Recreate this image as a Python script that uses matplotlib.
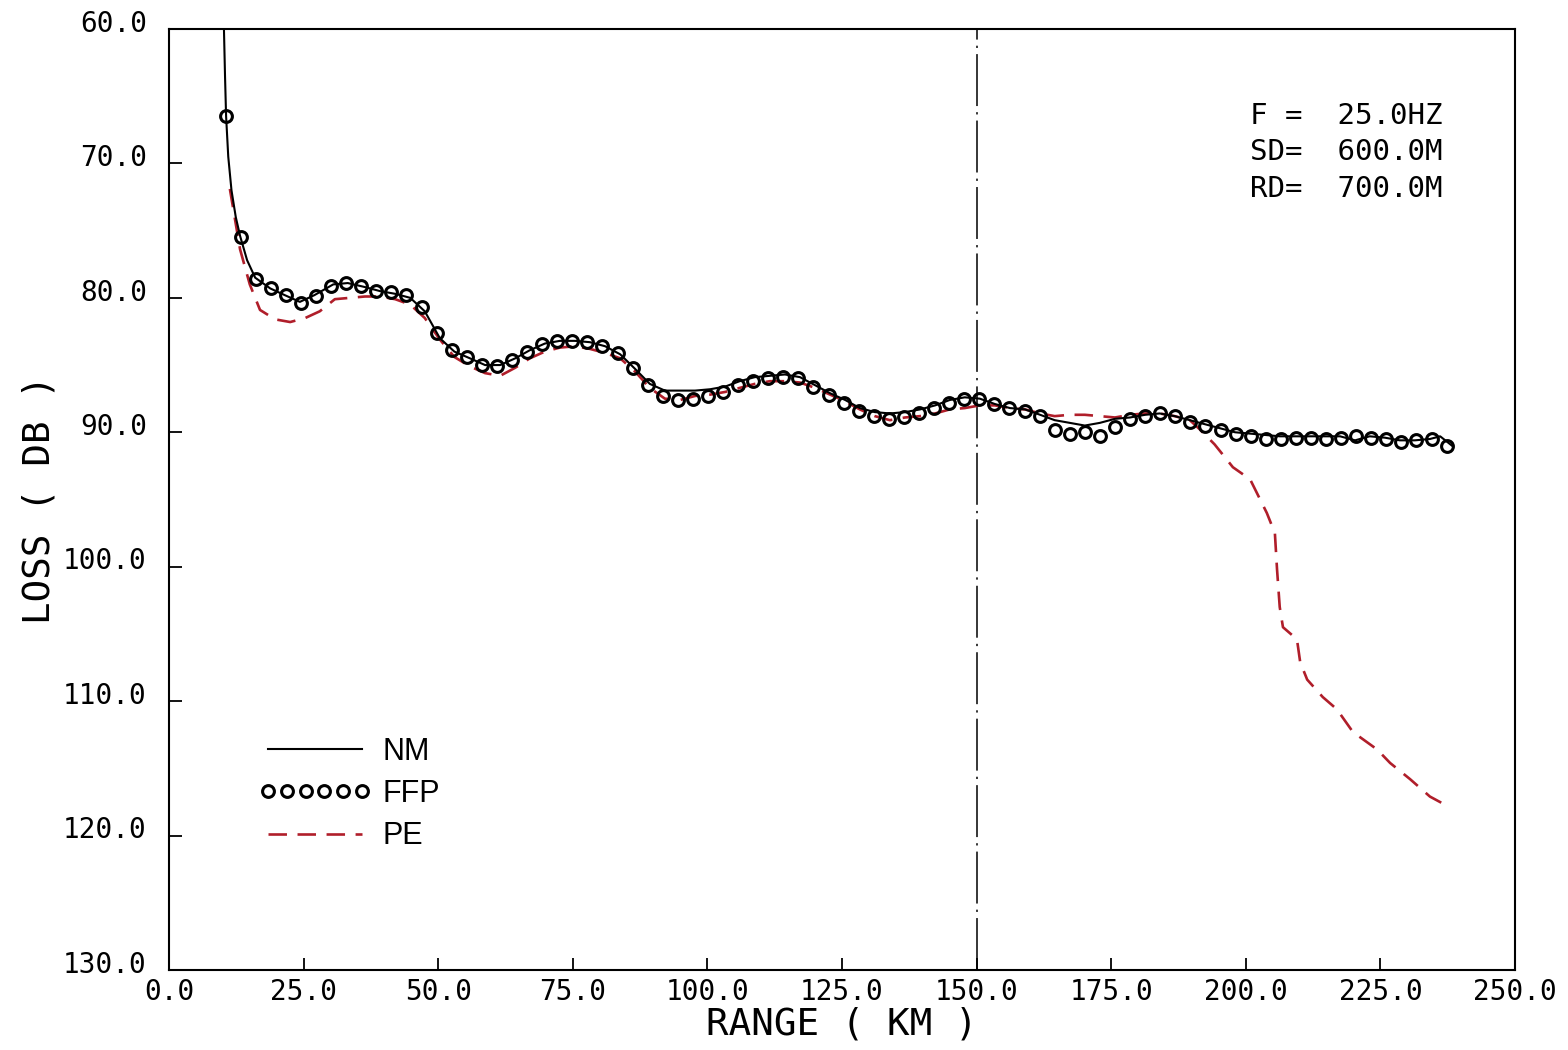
"""
Transmission loss vs range: normal modes, fast field and parabolic equation
"""

import numpy as np
import matplotlib.pyplot as plt
import matplotlib.transforms as mtransforms
from matplotlib.lines import Line2D

# normal mode solution (solid line)
nm_range = [10.2, 10.4, 10.6, 11.0, 11.6, 12.4, 13.2, 14.5, 16.0, 18.8,
            21.5, 24.3, 27.0, 30.5, 33.2, 36.4, 39.2, 42.0, 44.8, 47.5,
            50.3, 53.0, 55.9, 58.7, 61.5, 64.3, 67.0, 69.8, 72.6, 75.4,
            78.2, 81.0, 83.8, 86.6, 89.3, 92.1, 94.9, 97.7, 100.5, 103.3,
            106.0, 108.8, 111.6, 114.4, 117.2, 120.0, 122.8, 125.6, 128.3, 131.1,
            133.9, 136.7, 139.5, 142.3, 145.0, 147.8, 150.6, 153.4, 156.2, 159.0,
            161.8, 164.5, 167.3, 170.1, 172.9, 175.7, 178.5, 181.3, 184.0, 186.8,
            189.6, 192.4, 195.2, 198.0, 200.8, 203.6, 206.3, 209.1, 211.9, 214.7,
            217.5, 220.3, 223.0, 225.8, 228.6, 231.4, 234.2, 236.1, 238.3]
nm_loss = [60.0, 63.5, 66.5, 69.5, 72.0, 74.0, 75.4, 77.2, 78.5, 79.3,
           79.8, 80.3, 79.8, 79.0, 78.9, 79.2, 79.5, 79.7, 80.0, 81.0,
           83.0, 84.0, 84.5, 85.0, 85.0, 84.5, 83.9, 83.4, 83.2, 83.2,
           83.3, 83.6, 84.2, 85.3, 86.4, 86.9, 86.9, 86.9, 86.8, 86.6,
           86.2, 85.9, 85.8, 85.7, 85.9, 86.5, 87.1, 87.6, 88.2, 88.5,
           88.6, 88.5, 88.3, 88.0, 87.6, 87.4, 87.5, 87.9, 88.2, 88.3,
           88.7, 89.1, 89.3, 89.5, 89.3, 89.0, 88.9, 88.7, 88.6, 88.8,
           89.1, 89.4, 89.7, 90.0, 90.1, 90.2, 90.3, 90.3, 90.3, 90.3,
           90.3, 90.6, 90.3, 90.4, 90.6, 90.6, 90.5, 90.3, 91.0]

# fast field program samples (circle markers)
ffp_range = np.linspace(10.5, 237.3, 82)
ffp_loss = [66.5, 75.5, 78.6, 79.3, 79.8, 80.4, 79.9, 79.1, 78.9, 79.1,
            79.5, 79.6, 79.8, 80.7, 82.6, 83.9, 84.4, 85.0, 85.1, 84.6,
            84.0, 83.4, 83.2, 83.2, 83.3, 83.6, 84.1, 85.2, 86.5, 87.3,
            87.6, 87.5, 87.3, 87.0, 86.5, 86.2, 86.0, 85.9, 86.0, 86.6,
            87.2, 87.8, 88.4, 88.8, 89.0, 88.9, 88.6, 88.2, 87.8, 87.5,
            87.5, 87.9, 88.2, 88.4, 88.8, 89.8, 90.1, 90.0, 90.3, 89.6,
            89.0, 88.8, 88.6, 88.8, 89.2, 89.5, 89.8, 90.1, 90.3, 90.5,
            90.5, 90.4, 90.4, 90.5, 90.4, 90.3, 90.4, 90.5, 90.7, 90.6,
            90.5, 91.0]

# parabolic equation solution (red dashed)
pe_range = [11.3, 13.2, 15.0, 16.9, 19.7, 22.5, 25.3, 28.0, 30.8, 33.6,
            36.4, 39.2, 42.0, 44.8, 47.5, 50.3, 53.0, 55.9, 58.7, 61.5,
            64.3, 67.0, 69.8, 72.6, 75.4, 78.2, 81.0, 83.8, 86.6, 89.3,
            92.1, 94.9, 97.7, 100.5, 103.3, 106.0, 108.8, 111.6, 114.4, 117.2,
            120.0, 122.8, 125.6, 128.3, 131.1, 133.9, 136.7, 139.5, 142.3, 145.0,
            147.8, 150.6, 153.4, 156.2, 159.0, 161.8, 164.5, 167.3, 170.1, 172.9,
            175.7, 178.5, 181.3, 184.0, 186.8, 189.6, 191.5, 194.2, 197.6, 200.8,
            203.9, 205.4, 205.8, 206.3, 206.9, 209.5, 210.1, 211.4, 214.3, 216.9,
            219.9, 224.4, 226.8, 230.5, 234.2, 237.9]
pe_loss = [71.9, 76.4, 79.0, 80.9, 81.6, 81.8, 81.5, 81.0, 80.1, 80.0,
           79.9, 79.9, 80.1, 80.5, 81.5, 83.1, 84.4, 85.1, 85.6, 85.8,
           85.2, 84.5, 84.0, 83.7, 83.6, 83.8, 84.1, 84.5, 85.5, 86.7,
           87.5, 87.6, 87.3, 87.2, 87.0, 86.7, 86.4, 86.2, 86.2, 86.3,
           86.7, 87.2, 87.7, 88.3, 88.8, 89.1, 88.9, 88.8, 88.6, 88.3,
           88.2, 88.0, 88.0, 88.2, 88.3, 88.6, 88.8, 88.7, 88.7, 88.8,
           88.9, 88.7, 88.6, 88.6, 88.8, 89.1, 89.8, 90.9, 92.6, 93.5,
           96.0, 97.5, 100.2, 103.0, 104.5, 105.4, 107.1, 108.4, 109.7, 110.6,
           112.3, 113.6, 114.6, 115.8, 117.1, 117.9]

x_ticks = [0, 25, 50, 75, 100, 125, 150, 175, 200, 225, 250]
y_ticks = [60, 70, 80, 90, 100, 110, 120, 130]
info_lines = ["F =  25.0HZ", "SD=  600.0M", "RD=  700.0M"]
split_range = 150.0

PE_RED = '#b01e2a'
MONO = 'DejaVu Sans Mono'

fig = plt.figure(figsize=(15.68, 10.5), dpi=100)
ax = fig.add_axes([0.1078, 0.0762, 0.8584, 0.8962])

ax.plot(nm_range, nm_loss, color='black', lw=1.5, zorder=3)
ax.plot(ffp_range, ffp_loss, linestyle='none', marker='o', markersize=8.5,
        mfc='none', mec='black', mew=2.2, zorder=4)
ax.plot(pe_range, pe_loss, color=PE_RED, lw=1.9, dashes=(7, 4), zorder=2)

# dash-dot marker at 150 km
ax.axvline(split_range, color='black', lw=1.1, dashes=(34, 4, 1.5, 4), zorder=1)

ax.set_xlim(0, 250)
ax.set_ylim(130, 60)
ax.set_xticks(x_ticks)
ax.set_yticks(y_ticks)
ax.set_xticklabels([f"{v:.1f}" for v in x_ticks], family=MONO, fontsize=20)
ax.set_yticklabels([f"{v:.1f}" for v in y_ticks], family=MONO, fontsize=20)
ax.tick_params(direction='in', length=9, width=1.3, top=False, right=False)
ax.tick_params(axis='x', pad=6)
ax.tick_params(axis='y', pad=16)

# lift the loss labels a little above their ticks
lift = mtransforms.ScaledTranslation(0, 6 / 72, fig.dpi_scale_trans)
for lab in ax.get_yticklabels():
    lab.set_transform(lab.get_transform() + lift)

for sp in ax.spines.values():
    sp.set_linewidth(1.5)

ax.set_xlabel("RANGE ( KM )", family=MONO, fontsize=27, labelpad=0)
ax.set_ylabel("LOSS ( DB )", family=MONO, fontsize=27, labelpad=4)

for i, line in enumerate(info_lines):
    ax.text(0.803, 0.908 - i * 0.039, line, transform=ax.transAxes,
            family=MONO, fontsize=21, va='center', ha='left')

handles = [
    Line2D([], [], color='black', lw=1.5),
    Line2D([], [], linestyle='none', marker='o', markersize=8.5, mfc='none',
           mec='black', mew=2.2),
    Line2D([], [], color=PE_RED, lw=1.9, dashes=(7, 4)),
]
ax.legend(handles, ["NM", "FFP", "PE"], loc='upper left',
          bbox_to_anchor=(0.046, 0.277), frameon=False, numpoints=6,
          handlelength=3.7, handletextpad=0.35, labelspacing=0.4,
          prop={'family': 'Liberation Sans', 'size': 22})

fig.savefig('out.png', dpi=100, facecolor='white')
